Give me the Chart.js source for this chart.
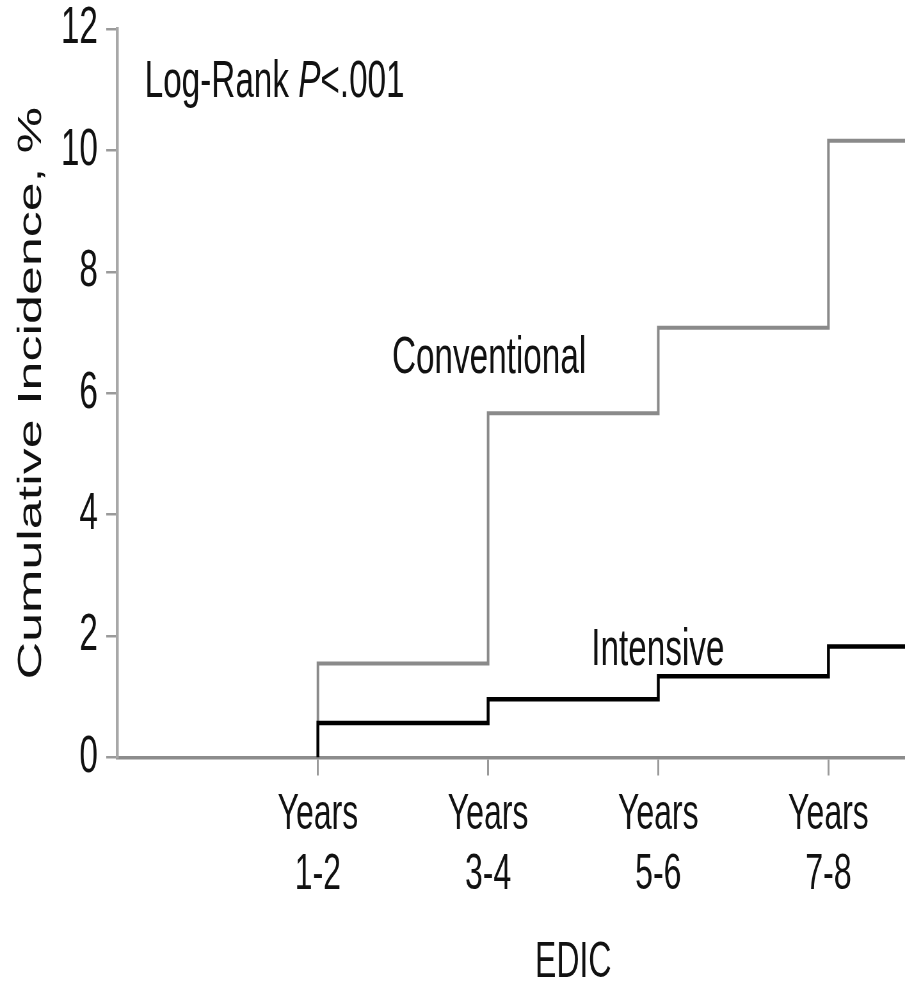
<!DOCTYPE html>
<html>
<head>
<meta charset="utf-8">
<title>Cumulative Incidence</title>
<script src="https://cdn.jsdelivr.net/npm/chart.js@4.4.1/dist/chart.umd.min.js"></script>
<style>
    html, body { margin: 0; padding: 0; background: #fff; overflow: hidden; }
    #incidence-chart { display: block; }
</style>
</head>
<body>
<!-- drawn 1414px wide and squeezed to 905px, which gives the narrow type of the original figure -->
<canvas id="incidence-chart" width="1414" height="981" style="width:905px;height:981px"></canvas>
<script>
// EDIC periods (one tick per period)
var periodTicks = [1, 2, 3, 4];
var periodLabels = [['Years', '1-2'], ['Years', '3-4'], ['Years', '5-6'], ['Years', '7-8']];

// cumulative incidence (%) reached in each period
var conventional = [1.55, 5.67, 7.08, 10.16];
var intensive = [0.57, 0.96, 1.34, 1.83];

// y axis ticks
var yTicks = [0, 2, 4, 6, 8, 10, 12];

var X_MIN = -0.18, X_MAX = 4.45;
var FONT = '"Liberation Sans", Arial, sans-serif';

// turn period values into a step line: rises at each period start, carried to the right edge
function stepPoints(values) {
    var pts = [{ x: periodTicks[0], y: 0 }];
    values.forEach(function (v, i) {
        pts.push({ x: periodTicks[i], y: v });
    });
    pts.push({ x: X_MAX, y: values[values.length - 1] });
    return pts;
}

// free text on the plot: p-value, series names, x title
var textPlugin = {
    id: 'plotText',
    afterDraw: function (chart) {
        var ctx = chart.ctx;
        var x = chart.scales.x, y = chart.scales.y;
        ctx.save();
        ctx.fillStyle = '#111';
        ctx.textBaseline = 'alphabetic';
        ctx.textAlign = 'left';

        // Log-Rank P<.001 (P in italic)
        var lx = 226, ly = 97;
        var parts = [['Log-Rank ', 'normal'], ['P', 'italic'], ['<.001', 'normal']];
        parts.forEach(function (p) {
            ctx.font = p[1] + ' 52px ' + FONT;
            ctx.fillText(p[0], lx, ly);
            lx += ctx.measureText(p[0]).width;
        });

        ctx.font = '52px ' + FONT;
        ctx.fillText('Conventional', x.getPixelForValue(1.435), y.getPixelForValue(6.33));
        ctx.fillText('Intensive', x.getPixelForValue(2.606), y.getPixelForValue(1.52));

        // x title centred under the period ticks
        ctx.textAlign = 'center';
        ctx.font = '50px ' + FONT;
        var cx = (x.getPixelForValue(periodTicks[0]) + x.getPixelForValue(periodTicks[periodTicks.length - 1])) / 2;
        ctx.fillText('EDIC', cx, 977);
        ctx.restore();
    }
};

var chart = new Chart(document.getElementById('incidence-chart'), {
    type: 'line',
    data: {
        datasets: [{
            label: 'Intensive',
            data: stepPoints(intensive),
            borderColor: '#000',
            borderWidth: 4.5,
            stepped: true,
            pointRadius: 0,
            fill: false,
            borderJoinStyle: 'miter',
            borderCapStyle: 'butt'
        }, {
            label: 'Conventional',
            data: stepPoints(conventional),
            borderColor: '#8a8a8a',
            borderWidth: 4,
            stepped: true,
            pointRadius: 0,
            fill: false,
            borderJoinStyle: 'miter',
            borderCapStyle: 'butt'
        }]
    },
    options: {
        responsive: false,
        animation: false,
        devicePixelRatio: 1,
        layout: { padding: { top: 29, right: 0, bottom: 0, left: 0 } },
        plugins: {
            legend: { display: false },
            tooltip: { enabled: false }
        },
        scales: {
            x: {
                type: 'linear',
                min: X_MIN,
                max: X_MAX,
                afterBuildTicks: function (scale) {
                    scale.ticks = periodTicks.map(function (v) { return { value: v }; });
                },
                afterFit: function (scale) { scale.height = 223.5; },
                grid: {
                    drawOnChartArea: false,
                    drawTicks: true,
                    tickLength: 18,
                    color: '#9a9a9a',
                    lineWidth: 3
                },
                border: { display: true, color: '#8c8c8c', width: 3.5 },
                ticks: {
                    padding: 10,
                    color: '#111',
                    maxRotation: 0,
                    autoSkip: false,
                    font: { family: FONT, size: 50, lineHeight: 1.2 },
                    callback: function (value, index) { return periodLabels[index]; }
                }
            },
            y: {
                type: 'linear',
                min: yTicks[0],
                max: yTicks[yTicks.length - 1],
                afterBuildTicks: function (scale) {
                    scale.ticks = yTicks.map(function (v) { return { value: v }; });
                },
                afterFit: function (scale) {
                    scale.width = 183;
                    // let the top label hang into the page margin as in the figure
                    scale.paddingTop = 0;
                    scale.paddingBottom = 0;
                },
                grid: {
                    drawOnChartArea: false,
                    drawTicks: true,
                    tickLength: 17,
                    color: '#9a9a9a',
                    lineWidth: 2.5
                },
                border: { display: true, color: '#a8a8a8', width: 4.5 },
                ticks: {
                    padding: 13,
                    color: '#111',
                    font: { family: FONT, size: 52, lineHeight: 1 }
                },
                title: {
                    display: true,
                    text: 'Cumulative Incidence, %',
                    color: '#111',
                    font: { family: FONT, size: 52, lineHeight: 1.2 },
                    padding: { top: 18, bottom: 0 }
                }
            }
        }
    },
    plugins: [textPlugin]
});
</script>
</body>
</html>
